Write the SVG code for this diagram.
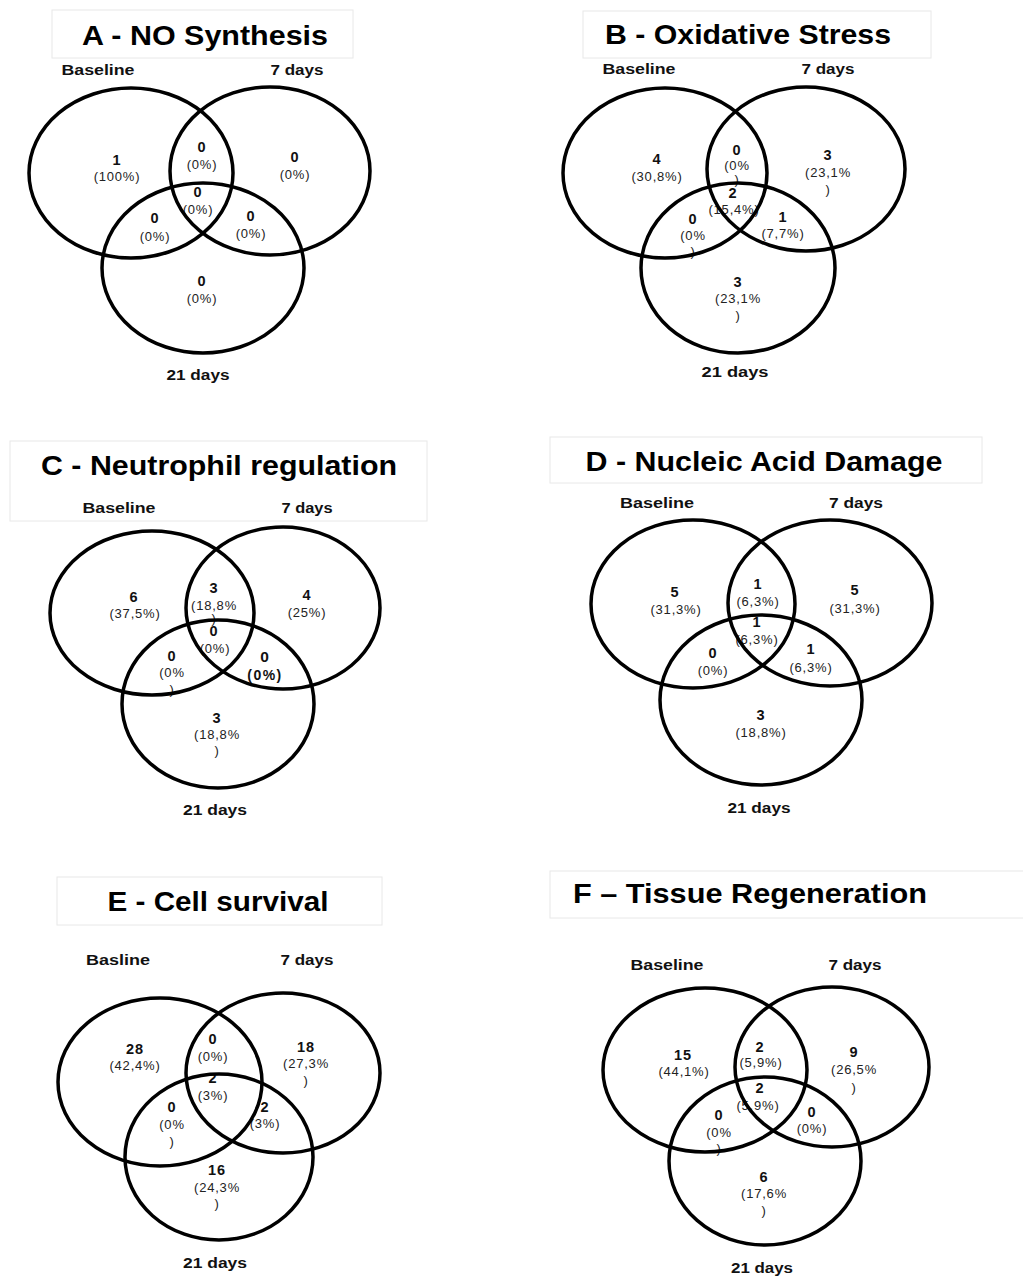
<svg xmlns="http://www.w3.org/2000/svg" width="1023" height="1276" viewBox="0 0 1023 1276">
<style>
  .bg{fill:#ffffff}
  .tbox{fill:#ffffff;stroke:#e8e8e8;stroke-width:1}
  .title{font-family:"Liberation Sans",Arial,sans-serif;font-weight:bold;font-size:28px;fill:#000;text-anchor:middle}
  .lab{font-family:"Liberation Sans",Arial,sans-serif;font-weight:bold;font-size:14px;fill:#111;text-anchor:middle}
  .n{font-family:"Liberation Sans",Arial,sans-serif;font-weight:bold;font-size:14.5px;fill:#111;text-anchor:middle;letter-spacing:1px}
  .p{font-family:"Liberation Sans",Arial,sans-serif;font-size:13px;fill:#222;text-anchor:middle;letter-spacing:0.8px}
  .nb{font-family:"Liberation Sans",Arial,sans-serif;font-weight:bold;font-size:15.5px;fill:#111;text-anchor:middle;letter-spacing:1px}
  .pb{font-family:"Liberation Sans",Arial,sans-serif;font-weight:bold;font-size:14px;fill:#111;text-anchor:middle;letter-spacing:1.5px}
  .c{fill:none;stroke:#000;stroke-width:3.5}
</style>
<rect class="bg" x="0" y="0" width="1023" height="1276"/>

<g id="panelA">
  <rect class="tbox" x="52" y="10" width="301" height="48"/>
  <text class="title" x="205" y="45" textLength="246" lengthAdjust="spacingAndGlyphs">A - NO Synthesis</text>
  <text class="lab" x="98" y="75" textLength="73" lengthAdjust="spacingAndGlyphs">Baseline</text>
  <text class="lab" x="297" y="75" textLength="53" lengthAdjust="spacingAndGlyphs">7 days</text>
  <text class="lab" x="198" y="380" textLength="63" lengthAdjust="spacingAndGlyphs">21 days</text>
  <text class="n" x="117" y="165">1</text><text class="p" x="117" y="181">(100%)</text>
  <text class="n" x="202" y="152">0</text><text class="p" x="202" y="169">(0%)</text>
  <text class="n" x="295" y="162">0</text><text class="p" x="295" y="179">(0%)</text>
  <text class="n" x="198" y="197">0</text><text class="p" x="198" y="214">(0%)</text>
  <text class="n" x="155" y="223">0</text><text class="p" x="155" y="241">(0%)</text>
  <text class="n" x="251" y="221">0</text><text class="p" x="251" y="238">(0%)</text>
  <text class="n" x="202" y="286">0</text><text class="p" x="202" y="303">(0%)</text>
  <ellipse id="A-baseline" class="c" cx="131" cy="173" rx="102" ry="85"/>
  <ellipse id="A-7days" class="c" cx="270" cy="171" rx="100" ry="84"/>
  <ellipse id="A-21days" class="c" cx="203" cy="268" rx="101" ry="85"/>
</g>

<g id="panelB">
  <rect class="tbox" x="583" y="11" width="348" height="47"/>
  <text class="title" x="748" y="44" textLength="286" lengthAdjust="spacingAndGlyphs">B - Oxidative Stress</text>
  <text class="lab" x="639" y="74" textLength="73" lengthAdjust="spacingAndGlyphs">Baseline</text>
  <text class="lab" x="828" y="74" textLength="53" lengthAdjust="spacingAndGlyphs">7 days</text>
  <text class="lab" x="735" y="377" textLength="67" lengthAdjust="spacingAndGlyphs">21 days</text>
  <text class="n" x="657" y="164">4</text><text class="p" x="657" y="181">(30,8%)</text>
  <text class="n" x="737" y="155">0</text><text class="p" x="737" y="170">(0%</text><text class="p" x="737" y="184">)</text>
  <text class="n" x="828" y="160">3</text><text class="p" x="828" y="177">(23,1%</text><text class="p" x="828" y="194">)</text>
  <text class="n" x="733" y="198">2</text><text class="p" x="734" y="214">(15,4%)</text>
  <text class="n" x="693" y="224">0</text><text class="p" x="693" y="240">(0%</text><text class="p" x="693" y="256">)</text>
  <text class="n" x="783" y="222">1</text><text class="p" x="783" y="238">(7,7%)</text>
  <text class="n" x="738" y="287">3</text><text class="p" x="738" y="303">(23,1%</text><text class="p" x="738" y="320">)</text>
  <ellipse id="B-baseline" class="c" cx="665" cy="173" rx="102" ry="85"/>
  <ellipse id="B-7days" class="c" cx="806" cy="169" rx="99" ry="82"/>
  <ellipse id="B-21days" class="c" cx="738" cy="268" rx="97" ry="85"/>
</g>

<g id="panelC">
  <rect class="tbox" x="10" y="441" width="417" height="80"/>
  <text class="title" x="219" y="475" textLength="356" lengthAdjust="spacingAndGlyphs">C - Neutrophil regulation</text>
  <text class="lab" x="119" y="513" textLength="73" lengthAdjust="spacingAndGlyphs">Baseline</text>
  <text class="lab" x="307" y="513" textLength="51" lengthAdjust="spacingAndGlyphs">7 days</text>
  <text class="lab" x="215" y="815" textLength="64" lengthAdjust="spacingAndGlyphs">21 days</text>
  <text class="n" x="134" y="602">6</text><text class="p" x="135" y="618">(37,5%)</text>
  <text class="n" x="214" y="593">3</text><text class="p" x="214" y="610">(18,8%</text><text class="p" x="214" y="623">)</text>
  <text class="n" x="307" y="600">4</text><text class="p" x="307" y="617">(25%)</text>
  <text class="n" x="214" y="636">0</text><text class="p" x="215" y="653">(0%)</text>
  <text class="n" x="172" y="661">0</text><text class="p" x="172" y="677">(0%</text><text class="p" x="172" y="694">)</text>
  <text class="nb" x="265" y="662">0</text><text class="pb" x="265" y="680">(0%)</text>
  <text class="n" x="217" y="723">3</text><text class="p" x="217" y="739">(18,8%</text><text class="p" x="217" y="755">)</text>
  <ellipse id="C-baseline" class="c" cx="152" cy="613" rx="102" ry="82"/>
  <ellipse id="C-7days" class="c" cx="283" cy="608" rx="97" ry="81"/>
  <ellipse id="C-21days" class="c" cx="218" cy="704" rx="96" ry="84"/>
</g>

<g id="panelD">
  <rect class="tbox" x="550" y="437" width="432" height="46"/>
  <text class="title" x="764" y="471" textLength="357" lengthAdjust="spacingAndGlyphs">D - Nucleic Acid Damage</text>
  <text class="lab" x="657" y="508" textLength="74" lengthAdjust="spacingAndGlyphs">Baseline</text>
  <text class="lab" x="856" y="508" textLength="54" lengthAdjust="spacingAndGlyphs">7 days</text>
  <text class="lab" x="759" y="813" textLength="63" lengthAdjust="spacingAndGlyphs">21 days</text>
  <text class="n" x="675" y="597">5</text><text class="p" x="676" y="614">(31,3%)</text>
  <text class="n" x="758" y="589">1</text><text class="p" x="758" y="606">(6,3%)</text>
  <text class="n" x="855" y="595">5</text><text class="p" x="855" y="613">(31,3%)</text>
  <text class="n" x="757" y="627">1</text><text class="p" x="757" y="644">(6,3%)</text>
  <text class="n" x="713" y="658">0</text><text class="p" x="713" y="675">(0%)</text>
  <text class="n" x="811" y="654">1</text><text class="p" x="811" y="672">(6,3%)</text>
  <text class="n" x="761" y="720">3</text><text class="p" x="761" y="737">(18,8%)</text>
  <ellipse id="D-baseline" class="c" cx="693" cy="604" rx="102" ry="84"/>
  <ellipse id="D-7days" class="c" cx="830" cy="603" rx="102" ry="83"/>
  <ellipse id="D-21days" class="c" cx="761" cy="700" rx="101" ry="85"/>
</g>

<g id="panelE">
  <rect class="tbox" x="57" y="877" width="325" height="48"/>
  <text class="title" x="218" y="911" textLength="221" lengthAdjust="spacingAndGlyphs">E - Cell survival</text>
  <text class="lab" x="118" y="965" textLength="64" lengthAdjust="spacingAndGlyphs">Basline</text>
  <text class="lab" x="307" y="965" textLength="53" lengthAdjust="spacingAndGlyphs">7 days</text>
  <text class="lab" x="215" y="1268" textLength="64" lengthAdjust="spacingAndGlyphs">21 days</text>
  <text class="n" x="135" y="1054">28</text><text class="p" x="135" y="1070">(42,4%)</text>
  <text class="n" x="213" y="1044">0</text><text class="p" x="213" y="1061">(0%)</text>
  <text class="n" x="306" y="1052">18</text><text class="p" x="306" y="1068">(27,3%</text><text class="p" x="306" y="1085">)</text>
  <text class="n" x="213" y="1083">2</text><text class="p" x="213" y="1100">(3%)</text>
  <text class="n" x="172" y="1112">0</text><text class="p" x="172" y="1129">(0%</text><text class="p" x="172" y="1146">)</text>
  <text class="n" x="265" y="1112">2</text><text class="p" x="265" y="1128">(3%)</text>
  <text class="n" x="217" y="1175">16</text><text class="p" x="217" y="1192">(24,3%</text><text class="p" x="217" y="1208">)</text>
  <ellipse id="E-baseline" class="c" cx="160" cy="1082" rx="102" ry="84"/>
  <ellipse id="E-7days" class="c" cx="283" cy="1073" rx="97" ry="80"/>
  <ellipse id="E-21days" class="c" cx="219" cy="1157" rx="94" ry="83"/>
</g>

<g id="panelF">
  <rect class="tbox" x="550" y="871" width="480" height="47"/>
  <text class="title" x="750" y="903" textLength="354" lengthAdjust="spacingAndGlyphs">F – Tissue Regeneration</text>
  <text class="lab" x="667" y="970" textLength="73" lengthAdjust="spacingAndGlyphs">Baseline</text>
  <text class="lab" x="855" y="970" textLength="53" lengthAdjust="spacingAndGlyphs">7 days</text>
  <text class="lab" x="762" y="1273" textLength="62" lengthAdjust="spacingAndGlyphs">21 days</text>
  <text class="n" x="683" y="1060">15</text><text class="p" x="684" y="1076">(44,1%)</text>
  <text class="n" x="760" y="1052">2</text><text class="p" x="761" y="1067">(5,9%)</text>
  <text class="n" x="854" y="1057">9</text><text class="p" x="854" y="1074">(26,5%</text><text class="p" x="854" y="1092">)</text>
  <text class="n" x="760" y="1093">2</text><text class="p" x="758" y="1110">(5,9%)</text>
  <text class="n" x="719" y="1120">0</text><text class="p" x="719" y="1137">(0%</text><text class="p" x="719" y="1153">)</text>
  <text class="n" x="812" y="1117">0</text><text class="p" x="812" y="1133">(0%)</text>
  <text class="n" x="764" y="1182">6</text><text class="p" x="764" y="1198">(17,6%</text><text class="p" x="764" y="1215">)</text>
  <ellipse id="F-baseline" class="c" cx="705" cy="1070" rx="102" ry="82"/>
  <ellipse id="F-7days" class="c" cx="832" cy="1067" rx="97" ry="80"/>
  <ellipse id="F-21days" class="c" cx="765" cy="1161" rx="96" ry="84"/>
</g>
</svg>
